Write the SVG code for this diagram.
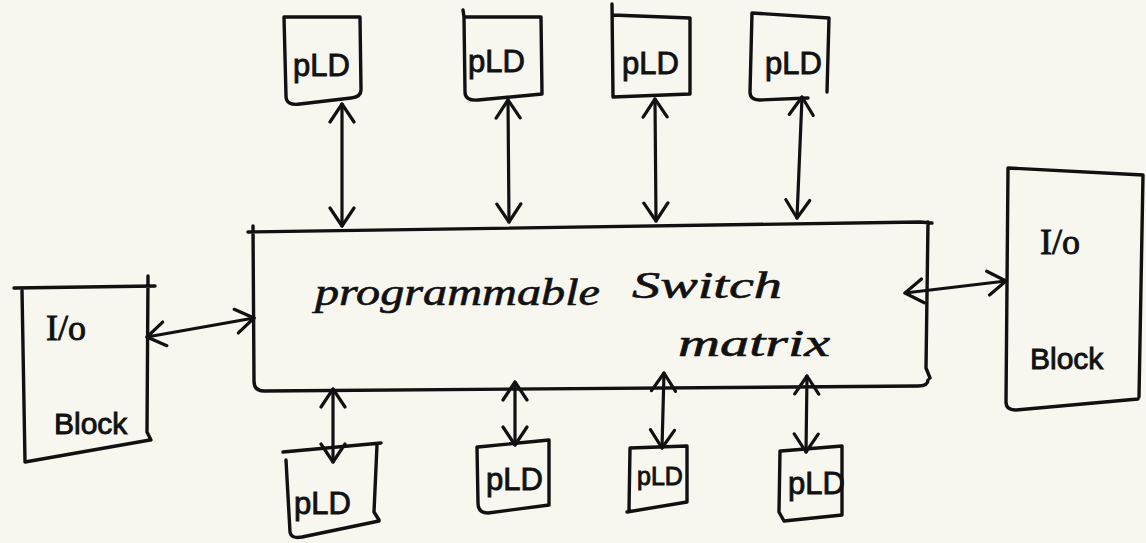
<svg xmlns="http://www.w3.org/2000/svg" width="1146" height="543" viewBox="0 0 1146 543">
  <defs>
    <style>
      .ink { fill: none; stroke: #111; stroke-width: 3.4; stroke-linecap: round; stroke-linejoin: round; }
      .wire { fill: none; stroke: #111; stroke-width: 3.2; stroke-linecap: round; marker-start: url(#head); marker-end: url(#head); }
      .lbl { font-family: "Liberation Sans", "DejaVu Sans", sans-serif; fill: #111; stroke: #111; stroke-width: 0.9; }
      .pld { font-size: 31px; }
      .pld-sm { font-size: 25px; }
      .io { font-family: "Liberation Serif", "DejaVu Serif", serif; font-size: 36px; }
      .blk { font-size: 30px; }
      .big { font-family: "Liberation Serif", "DejaVu Serif", serif; font-style: italic; font-size: 38px; fill: #111; stroke: #111; stroke-width: 0.6; }
    </style>
    <!-- open hand-drawn chevron used at both ends of every link -->
    <marker id="head" viewBox="0 0 22 28" refX="20" refY="14" markerWidth="22" markerHeight="28" markerUnits="userSpaceOnUse" orient="auto-start-reverse">
      <path d="M2,2 L20,14 L2,26" fill="none" stroke="#111" stroke-width="3.2" stroke-linecap="round" stroke-linejoin="round"/>
    </marker>
  </defs>

  <rect x="0" y="0" width="1146" height="543" fill="#f7f6ef"/>

  <!-- central switch matrix -->
  <g id="switch-matrix">
    <path class="ink" d="M248,232 L920,222 L932,223 M928,222 L926,368 L930,378 M928,380 Q928,386 918,386 L264,391 Q254,391 254,381 L253,226"/>
    <text class="big" x="315" y="305" textLength="285" lengthAdjust="spacingAndGlyphs">programmable</text>
    <text class="big" x="632" y="298" textLength="150" lengthAdjust="spacingAndGlyphs">Switch</text>
    <text class="big" x="678" y="356" textLength="152" lengthAdjust="spacingAndGlyphs">matrix</text>
  </g>

  <!-- left I/O block -->
  <g id="io-left">
    <path class="ink" d="M14,288 L155,286 M22,290 L25,462 L150,440 M148,276 L147,432 L151,440"/>
    <text class="lbl io" x="46" y="340">I/o</text>
    <text class="lbl blk" x="54" y="434">Block</text>
  </g>

  <!-- right I/O block -->
  <g id="io-right">
    <path class="ink" d="M1008,168 L1143,175 M1008,168 L1006,402 Q1006,410 1016,410 L1138,399 M1143,175 L1139,397"/>
    <text class="lbl io" x="1040" y="254">I/o</text>
    <text class="lbl blk" x="1030" y="369">Block</text>
  </g>

  <!-- PLDs above the matrix -->
  <g id="pld-t1">
    <path class="ink" d="M284,17 L360,17 L361,90 Q361,97 351,98 L300,104 Q286,106 286,96 Z"/>
    <text class="lbl pld" x="293" y="76">pLD</text>
  </g>
  <g id="pld-t2">
    <path class="ink" d="M463,10 L464,17 L541,17 L542,94 L478,100 Q465,101 465,92 L464,17"/>
    <text class="lbl pld" x="468" y="72">pLD</text>
  </g>
  <g id="pld-t3">
    <path class="ink" d="M612,4 L613,97 L690,94 L690,18 L612,15"/>
    <text class="lbl pld" x="622" y="74">pLD</text>
  </g>
  <g id="pld-t4">
    <path class="ink" d="M752,13 L829,18 L827,92 M752,13 L750,92 Q750,100 760,100 L808,98"/>
    <text class="lbl pld" x="765" y="74">pLD</text>
  </g>

  <!-- PLDs below the matrix -->
  <g id="pld-b1">
    <path class="ink" d="M283,452 L381,443 M377,445 L374,512 L379,520 M286,460 L290,532 Q291,539 302,537 L379,521"/>
    <text class="lbl pld" x="294" y="514">pLD</text>
  </g>
  <g id="pld-b2">
    <path class="ink" d="M478,447 L549,440 L549,505 L488,513 Q478,513 478,503 L477,447"/>
    <text class="lbl pld" x="486" y="490">pLD</text>
  </g>
  <g id="pld-b3">
    <path class="ink" d="M630,448 L687,446 L687,502 L627,512 M630,448 L629,510"/>
    <text class="lbl pld-sm" x="637" y="485">pLD</text>
  </g>
  <g id="pld-b4">
    <path class="ink" d="M781,451 L842,446 L842,515 L784,521 L779,512 L780,451"/>
    <text class="lbl pld" x="788" y="494">pLD</text>
  </g>

  <!-- bidirectional links -->
  <g id="connectors">
    <line class="wire" x1="342" y1="104" x2="342" y2="226"/>
    <line class="wire" x1="508" y1="100" x2="509" y2="222"/>
    <line class="wire" x1="655" y1="99" x2="656" y2="221"/>
    <line class="wire" x1="802" y1="97" x2="797" y2="218"/>

    <line class="wire" x1="333" y1="389" x2="333" y2="462"/>
    <line class="wire" x1="515" y1="382" x2="515" y2="445"/>
    <line class="wire" x1="664" y1="373" x2="662" y2="448"/>
    <line class="wire" x1="807" y1="376" x2="806" y2="452"/>

    <line class="wire" x1="147" y1="337" x2="254" y2="318"/>
    <line class="wire" x1="905" y1="293" x2="1006" y2="281"/>
  </g>
</svg>
